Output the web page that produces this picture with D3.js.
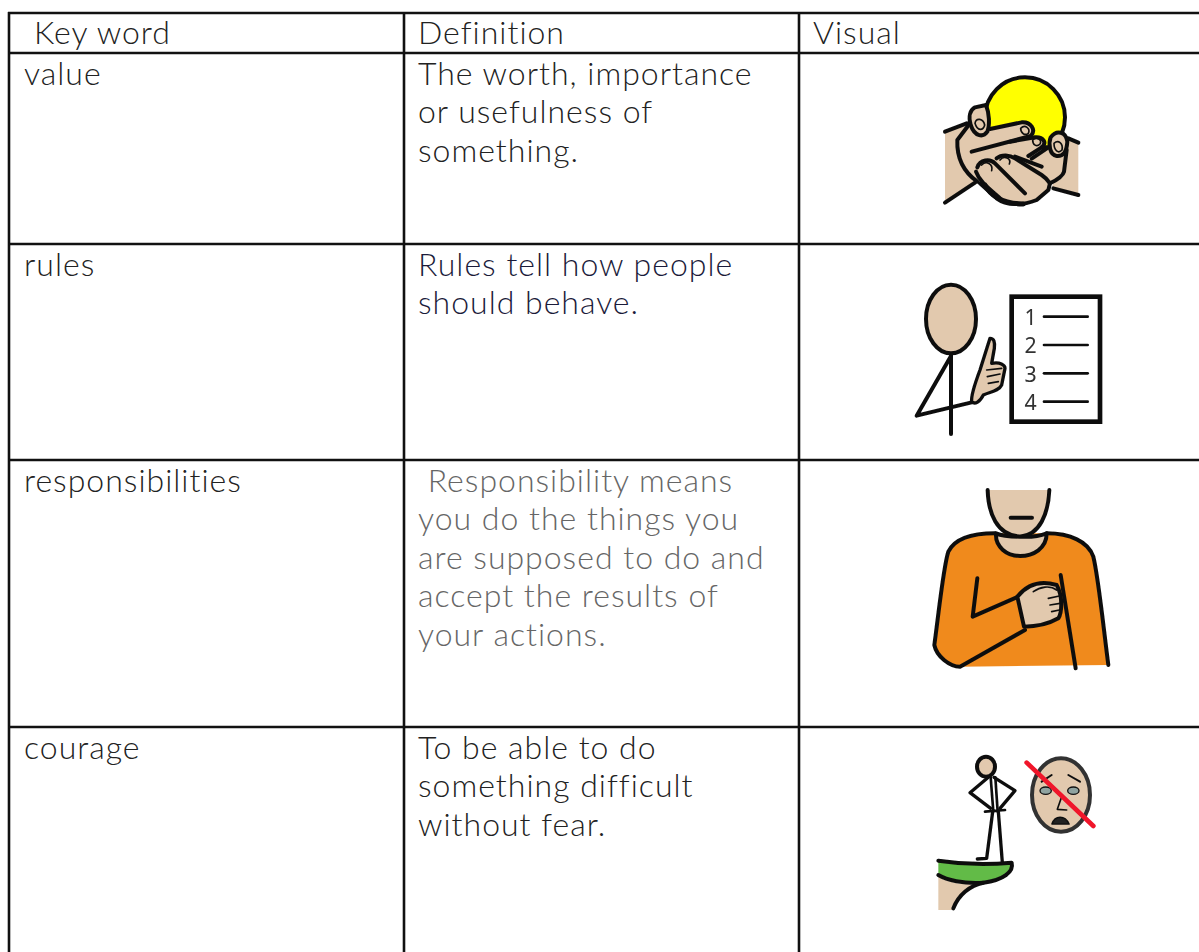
<!DOCTYPE html>
<html>
<head>
<meta charset="utf-8">
<script src="https://cdn.jsdelivr.net/npm/d3@7"></script>
<style>
  html, body { margin: 0; padding: 0; background: #fff; overflow: hidden; }
  text { font-family: "Lato", sans-serif; font-weight: 300; font-size: 32px; letter-spacing: 1px; white-space: pre; }
</style>
</head>
<body>
<script>
// Table content
const columns = ["Key word", "Definition", "Visual"];
const keyWords = ["value", "rules", "responsibilities", "courage"];
const definitions = [
    ["The worth, importance", "or usefulness of", "something."],
    ["Rules tell how people", "should behave."],
    [" Responsibility means", "you do the things you", "are supposed to do and", "accept the results of", "your actions."],
    ["To be able to do", "something difficult", "without fear."]
];
const definitionColors = ["#222222", "#1b1b3a", "#666666", "#222222"];

const width = 1199;
const height = 952;
const lineHeight = 38.4;
const skin = "#e2c9ae";

// Where the table rules sit
const columnX = d3.scaleOrdinal().domain(columns).range([9, 404, 799]);
const rowY = d3.scaleOrdinal().domain(["header", ...keyWords, "end"]).range([13, 53, 244, 460, 727, 960]);

const svg = d3.select("body").append("svg")
    .attr("width", width)
    .attr("height", height)
    .attr("viewBox", `0 0 ${width} ${height}`)
    .style("display", "block");

// Soft edge so the pictures look like the scaled bitmaps in the document
svg.append("filter").attr("id", "soft")
    .append("feGaussianBlur").attr("stdDeviation", 0.7);

// Grid lines
svg.selectAll(".col-line")
    .data(columns)
    .join("line")
    .attr("class", "col-line")
    .attr("x1", d => columnX(d))
    .attr("x2", d => columnX(d))
    .attr("y1", rowY("header") - 1)
    .attr("y2", height)
    .attr("stroke", "#111")
    .attr("stroke-width", 2.6);

svg.selectAll(".row-line")
    .data(["header", ...keyWords])
    .join("line")
    .attr("class", "row-line")
    .attr("x1", columnX(columns[0]) - 1)
    .attr("x2", width)
    .attr("y1", d => rowY(d))
    .attr("y2", d => rowY(d))
    .attr("stroke", "#111")
    .attr("stroke-width", 2.6);

// Header row
svg.selectAll(".head")
    .data(columns)
    .join("text")
    .attr("class", "head")
    .attr("x", (d, i) => columnX(d) + (i === 0 ? 25 : 14))
    .attr("y", 44)
    .attr("fill", "#222")
    .text(d => d);

// Key words
svg.selectAll(".word")
    .data(keyWords)
    .join("text")
    .attr("class", "word")
    .attr("x", columnX(columns[0]) + 15)
    .attr("y", d => rowY(d) + 32)
    .attr("fill", "#222")
    .text(d => d);

// Definitions, one text per line
keyWords.forEach((word, i) => {
    svg.append("g").selectAll("text")
        .data(definitions[i])
        .join("text")
        .attr("x", columnX(columns[1]) + 14)
        .attr("y", (d, j) => rowY(word) + 32 + j * lineHeight)
        .attr("fill", definitionColors[i])
        .text(d => d);
});

// Helper for the pictures, drawn at 3x and scaled down
function picture(ox, oy) {
    return svg.append("g")
        .attr("transform", `translate(${ox},${oy}) scale(${1 / 3})`)
        .attr("filter", "url(#soft)")
        .attr("fill", "none")
        .attr("stroke", "#111")
        .attr("stroke-width", 12)
        .attr("stroke-linecap", "round")
        .attr("stroke-linejoin", "round");
}
function addPath(g, d, fill, sw) {
    const p = g.append("path").attr("d", d);
    if (fill) p.attr("fill", fill);
    if (fill && sw === 0) p.attr("stroke", "none");
    else if (sw) p.attr("stroke-width", sw);
    return p;
}

// value: hands holding a ball
const hands = picture(900, 60);
hands.append("circle").attr("cx", 375).attr("cy", 172).attr("r", 120).attr("fill", "#ffff00");
addPath(hands, "M135,215 L215,185 L240,365 L135,428 Z", skin, 0);
addPath(hands, "M500,235 L535,248 L535,405 L455,385 Z", skin, 0);
addPath(hands, "M135,215 L200,190");
addPath(hands, "M135,428 L225,368");
addPath(hands, "M505,235 L535,248");
addPath(hands, "M460,385 L535,405");
// whole silhouette of both hands
addPath(hands, "M210,190 L172,240 C170,290 190,335 240,370 L290,415 C320,438 370,436 410,420 L445,390 L450,370 C470,360 488,350 492,335 L500,270 L455,235 L440,262 L435,245 L410,232 L398,228 C408,205 390,185 365,187 L270,207 Z", skin, 0);
addPath(hands, "M210,190 L172,240 C170,290 190,335 232,365");
addPath(hands, "M500,270 L492,335 C488,350 470,360 450,370 L445,390 L410,420 C370,436 320,438 290,415 L240,370");
// left thumb
addPath(hands, "M212,195 C205,170 210,150 225,142 L258,135 C268,160 270,195 262,215 C250,232 225,232 212,195 Z", skin);
// upper fingers
addPath(hands, "M270,207 L365,187 C392,185 410,210 392,228 L215,275");
addPath(hands, "M330,245 L405,232 C430,230 442,248 425,262 L385,288");
addPath(hands, "M425,262 L445,262 L395,296");
// right thumb
addPath(hands, "M452,232 C470,208 498,215 502,245 C500,275 490,290 470,288 C448,285 445,250 452,232 Z", skin);
// lower fingers
addPath(hands, "M232,322 C240,298 270,295 285,310 L375,400");
addPath(hands, "M290,295 C305,282 330,285 345,295 L425,345 C440,355 445,362 450,370");
addPath(hands, "M345,290 L425,320");
addPath(hands, "M228,335 C240,370 280,395 305,420");
addPath(hands, "M255,375 C270,405 300,430 370,432", null, 15);
// nails
addPath(hands, "M225,190 C228,172 250,175 254,195 C250,212 232,215 225,190", null, 5);
addPath(hands, "M362,205 C375,192 392,205 385,220 C375,228 362,220 362,205", null, 5);
addPath(hands, "M398,240 C410,228 428,240 420,252 C410,262 398,255 398,240", null, 5);
addPath(hands, "M462,250 C475,238 490,250 486,270 C475,282 462,272 462,250", null, 5);
addPath(hands, "M300,300 C312,285 335,295 328,312", null, 5);
addPath(hands, "M245,315 C258,300 280,312 275,332", null, 5);

// rules: person pointing at a numbered list
const rulesPic = picture(890, 270);
rulesPic.append("ellipse").attr("cx", 183).attr("cy", 147).attr("rx", 75).attr("ry", 103).attr("fill", skin);
addPath(rulesPic, "M183,255 L183,492");
addPath(rulesPic, "M183,258 L80,437 L245,397");
addPath(rulesPic, "M300,205 C312,205 315,215 313,235 L305,280 C330,275 345,285 345,295 L335,345 C325,365 300,365 280,375 C270,395 255,405 245,395 C243,380 255,340 270,300 Z", skin, 10);
addPath(rulesPic, "M290,300 L335,295 M292,320 L330,312 M295,340 L325,335", null, 5);
rulesPic.append("rect").attr("x", 365).attr("y", 80).attr("width", 265).attr("height", 375)
    .attr("fill", "#fff").attr("stroke-width", 14).attr("stroke-linejoin", "miter");
["1", "2", "3", "4"].forEach((n, i) => {
    rulesPic.append("text").attr("x", 422).attr("y", 165 + i * 85)
        .attr("text-anchor", "middle").attr("stroke", "none").attr("fill", "#333")
        .style("font-family", "Noto Sans").style("font-size", "64px").style("font-weight", 400).style("letter-spacing", 0).text(n);
    rulesPic.append("line").attr("x1", 462).attr("x2", 593)
        .attr("y1", 140 + i * 85).attr("y2", 140 + i * 85).attr("stroke-width", 8);
});

// responsibilities: person with a hand on the chest
const chest = picture(900, 470);
addPath(chest, "M285,190 C220,190 165,205 145,245 C130,290 115,440 103,525 C110,560 150,590 180,590 L625,585 C610,470 595,320 580,260 C565,215 510,190 440,190 Z", "#f08a1d", 0);
addPath(chest, "M285,190 C220,190 165,205 145,245 C130,290 115,440 103,525 C110,560 150,590 180,590 L375,480");
addPath(chest, "M440,190 C510,190 565,215 580,260 C595,320 610,470 625,585");
addPath(chest, "M263,60 C265,130 290,195 360,200 C420,195 445,130 448,60 Z", skin, 0);
addPath(chest, "M263,60 C265,130 290,195 360,200 C420,195 445,130 448,60");
addPath(chest, "M288,190 C285,230 320,258 360,258 C400,258 440,235 440,190 C420,198 400,202 360,200 C330,200 305,198 288,190 Z", skin);
addPath(chest, "M332,143 L396,143");
addPath(chest, "M232,325 L218,440 L355,380");
addPath(chest, "M482,315 L527,595");
addPath(chest, "M352,380 C380,345 420,330 470,345 C490,380 485,430 475,445 C440,465 400,470 372,470 Z", skin);
addPath(chest, "M400,365 C420,350 450,345 470,360 M445,385 L478,378 M450,405 L480,400 M455,425 L478,420", null, 5);

// courage: person on a cliff edge, crossed out fear
const cliff = picture(900, 740);
addPath(cliff, "M115,410 C150,430 190,435 240,432 C190,445 165,475 160,510 L115,510 Z", skin, 0);
addPath(cliff, "M115,362 C180,372 260,375 335,368 C342,395 310,420 250,428 C190,432 140,420 115,405 Z", "#62bb46", 0);
addPath(cliff, "M115,362 C180,372 260,375 335,368 C342,395 310,420 250,428 C210,436 175,465 160,505");
addPath(cliff, "M115,405 C140,420 190,432 250,428");
addPath(cliff, "M265,112 L210,158 L272,205 M282,112 L345,152 L300,205", null, 10);
addPath(cliff, "M272,112 L280,215 M286,112 L293,215 M255,215 L315,210", null, 8);
addPath(cliff, "M278,215 L260,355 L232,357 M295,215 L307,368", null, 10);
cliff.append("ellipse").attr("cx", 258).attr("cy", 80).attr("rx", 27).attr("ry", 30).attr("fill", skin);
cliff.append("ellipse").attr("cx", 483).attr("cy", 165).attr("rx", 87).attr("ry", 110).attr("fill", skin).attr("stroke", "#333");
cliff.append("ellipse").attr("cx", 437).attr("cy", 152).attr("rx", 17).attr("ry", 11).attr("fill", "#8fa3a0").attr("stroke-width", 4);
cliff.append("ellipse").attr("cx", 520).attr("cy", 152).attr("rx", 17).attr("ry", 11).attr("fill", "#8fa3a0").attr("stroke-width", 4);
addPath(cliff, "M425,125 L455,105 M505,105 L540,125", null, 6);
addPath(cliff, "M485,170 L472,208 L500,210", null, 5);
addPath(cliff, "M456,252 C465,225 495,225 507,252 Z", "#222", 5);
addPath(cliff, "M380,68 L580,258").attr("stroke", "#f0142a").attr("stroke-width", 14);
</script>
</body>
</html>
